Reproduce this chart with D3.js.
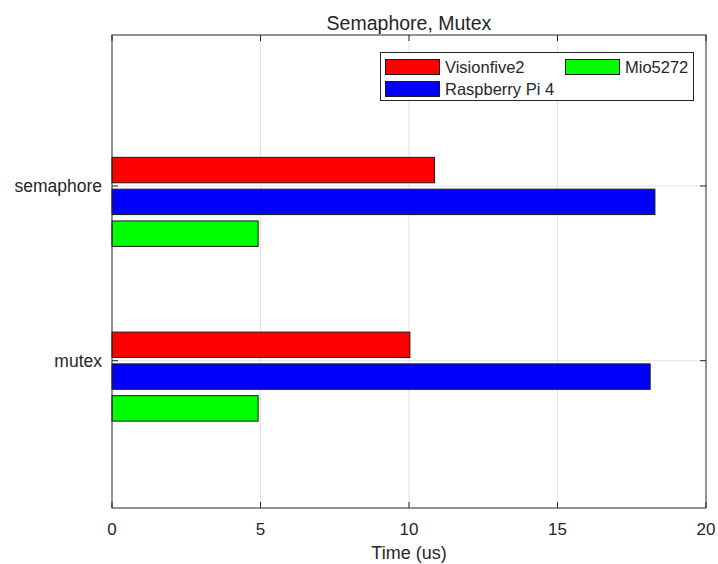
<!DOCTYPE html>
<html>
<head>
<meta charset="utf-8">
<script src="https://cdn.jsdelivr.net/npm/d3@7"></script>
<style>
  body { margin: 0; background: #fff; }
  text { font-family: "Liberation Sans", Arial, sans-serif; fill: #262626; }
</style>
</head>
<body>
<svg id="chart" width="718" height="564"></svg>
<script>
// data
const categories = ["semaphore", "mutex"];
const seriesNames = ["Visionfive2", "Raspberry Pi 4", "Mio5272"];
const seriesColors = ["#ff0000", "#0000ff", "#00ff00"];
const visionfive2 = [10.86, 10.03];
const raspberryPi4 = [18.28, 18.12];
const mio5272 = [4.92, 4.92];
const xTicks = [0, 5, 10, 15, 20];

const values = [visionfive2, raspberryPi4, mio5272];

const pL = 112, pR = 706, pT = 35, pB = 508;
const svg = d3.select("#chart");

const scX = d3.scaleLinear().domain([0, 20]).range([pL, pR]);
// categories sit at 1 and 2, axis range taken from the figure
const scY = d3.scaleLinear().domain([0.136, 2.843]).range([pT, pB]);

// MATLAB style grouped bar: 4 slots, first one empty
const step = 0.182, barH = step * 0.8;
const slotOffset = i => (i - 0.5) * step;

// grid
const grid = svg.append("g").attr("stroke", "#e3e3e3").attr("stroke-width", 1);
grid.selectAll("line.vx").data(xTicks.slice(1, -1)).enter().append("line")
    .attr("x1", d => scX(d)).attr("x2", d => scX(d))
    .attr("y1", pT).attr("y2", pB);
grid.selectAll("line.hy").data(categories).enter().append("line")
    .attr("x1", pL).attr("x2", pR)
    .attr("y1", (d, i) => scY(i + 1)).attr("y2", (d, i) => scY(i + 1));

// bars
values.forEach((vals, s) => {
    svg.append("g").attr("fill", seriesColors[s])
        .attr("stroke", "#1a1a1a").attr("stroke-width", 1)
        .selectAll("rect").data(vals).enter().append("rect")
        .attr("x", scX(0))
        .attr("y", (d, i) => scY(i + 1 + slotOffset(s) - barH / 2))
        .attr("width", d => scX(d) - scX(0))
        .attr("height", scY(barH) - scY(0));
});

// box and ticks
svg.append("rect").attr("x", pL).attr("y", pT)
    .attr("width", pR - pL).attr("height", pB - pT)
    .attr("fill", "none").attr("stroke", "#262626").attr("stroke-width", 1);

const ticks = svg.append("g").attr("stroke", "#262626");
xTicks.forEach(t => {
    ticks.append("line").attr("x1", scX(t)).attr("x2", scX(t)).attr("y1", pB).attr("y2", pB - 6);
    ticks.append("line").attr("x1", scX(t)).attr("x2", scX(t)).attr("y1", pT).attr("y2", pT + 6);
});
categories.forEach((c, i) => {
    ticks.append("line").attr("x1", pL).attr("x2", pL + 6).attr("y1", scY(i + 1)).attr("y2", scY(i + 1));
    ticks.append("line").attr("x1", pR).attr("x2", pR - 6).attr("y1", scY(i + 1)).attr("y2", scY(i + 1));
});

svg.append("g").selectAll("text").data(xTicks).enter().append("text")
    .attr("x", d => scX(d)).attr("y", pB + 27)
    .attr("text-anchor", "middle").attr("font-size", 17)
    .text(d => d);

svg.append("g").selectAll("text").data(categories).enter().append("text")
    .attr("x", pL - 10).attr("y", (d, i) => scY(i + 1) + 6)
    .attr("text-anchor", "end").attr("font-size", 17.5)
    .text(d => d);

svg.append("text").attr("x", (pL + pR) / 2).attr("y", 559)
    .attr("text-anchor", "middle").attr("font-size", 18).text("Time (us)");

svg.append("text").attr("x", (pL + pR) / 2).attr("y", 30)
    .attr("text-anchor", "middle").attr("font-size", 19.5).attr("fill", "#000")
    .text("Semaphore, Mutex");

// legend
const lg = svg.append("g");
lg.append("rect").attr("x", 380.5).attr("y", 52.5).attr("width", 313).attr("height", 48)
    .attr("fill", "#fff").attr("stroke", "#262626");
const legendPos = [[385, 59], [385, 81], [565, 59]];
seriesNames.forEach((n, s) => {
    const [lx, ly] = legendPos[s];
    lg.append("rect").attr("x", lx + 0.5).attr("y", ly + 0.5).attr("width", 54).attr("height", 15)
        .attr("fill", seriesColors[s]).attr("stroke", "#1a1a1a");
    lg.append("text").attr("x", lx + 60).attr("y", ly + 14).attr("font-size", 16.5).text(n);
});
</script>
</body>
</html>
